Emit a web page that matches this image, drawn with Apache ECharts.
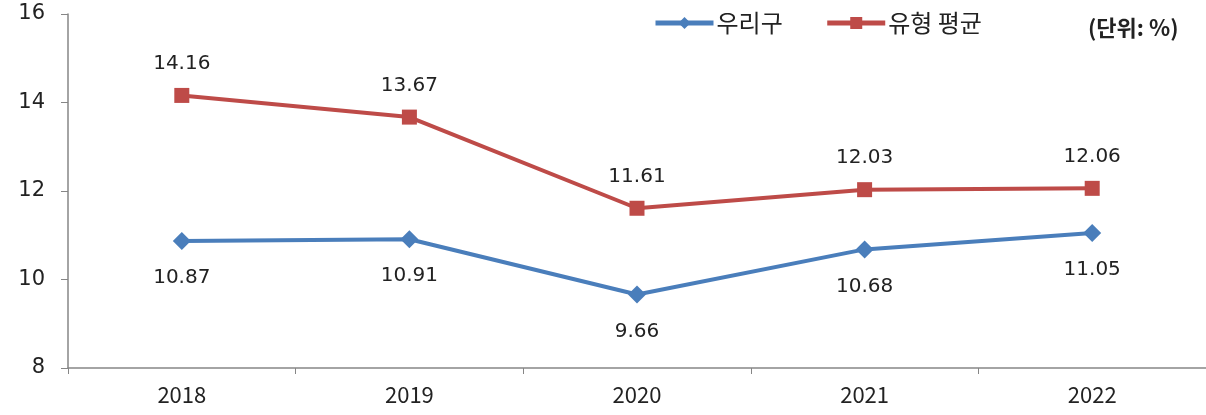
<!DOCTYPE html>
<html><head><meta charset="utf-8">
<script src="https://cdn.jsdelivr.net/npm/echarts@6/dist/echarts.min.js"></script>
<style>html,body{margin:0;padding:0;background:#fff}#c{width:1206px;height:415px}</style>
</head><body><div id="c"></div>
<script>
const categories = ['2018', '2019', '2020', '2021', '2022'];
const ourDistrict = [10.87, 10.91, 9.66, 10.68, 11.05];
const typeAverage = [14.16, 13.67, 11.61, 12.03, 12.06];
const seriesNames = ['우리구', '유형 평균'];
const unitText = '(단위: %)';

const FONT = "'Noto Sans CJK KR', 'Noto Sans', sans-serif";
const NUMFONT = "'DejaVu Sans', Verdana, sans-serif";
const chart = echarts.init(document.getElementById('c'));
chart.setOption({
  animation: false,
  textStyle: { fontFamily: FONT },
  grid: { left: 68, width: 1144, top: 14, bottom: 47, containLabel: false },
  legend: {
    top: 6, left: 648, itemWidth: 58, itemHeight: 15, itemGap: 42,
    lineStyle: { width: 5 },
    textStyle: { fontSize: 24, color: '#222', fontFamily: FONT, padding: [0, 0, 0, -2] },
    data: seriesNames
  },
  graphic: [{
    type: 'text', left: 1088, top: 17,
    style: { text: unitText, fontSize: 22, fontWeight: 'bold', fill: '#222', fontFamily: FONT }
  }],
  xAxis: {
    type: 'category', data: categories, boundaryGap: true,
    axisLine: { lineStyle: { color: '#868686', width: 1.5 } },
    axisTick: { show: true, length: 6, lineStyle: { color: '#868686' } },
    axisLabel: { fontSize: 22, color: '#222', margin: 16, fontFamily: FONT }
  },
  yAxis: {
    type: 'value', min: 8, max: 16, interval: 2,
    axisLine: { show: true, lineStyle: { color: '#868686', width: 1.5 } },
    axisTick: { show: true, length: 7, lineStyle: { color: '#868686' } },
    splitLine: { show: false },
    axisLabel: { fontSize: 21, color: '#222', margin: 23, fontFamily: NUMFONT }
  },
  series: [
    {
      name: seriesNames[0], type: 'line', data: ourDistrict,
      symbol: 'diamond', symbolSize: 18,
      lineStyle: { color: '#4A7EBB', width: 4 },
      itemStyle: { color: '#4A7EBB' },
      label: { show: true, position: 'bottom', distance: 18, fontSize: 20, color: '#222', fontFamily: NUMFONT }
    },
    {
      name: seriesNames[1], type: 'line', data: typeAverage,
      symbol: 'rect', symbolSize: 15,
      lineStyle: { color: '#BE4B48', width: 4 },
      itemStyle: { color: '#BE4B48' },
      label: { show: true, position: 'top', distance: 14, fontSize: 20, color: '#222', fontFamily: NUMFONT }
    }
  ]
});
</script></body></html>
